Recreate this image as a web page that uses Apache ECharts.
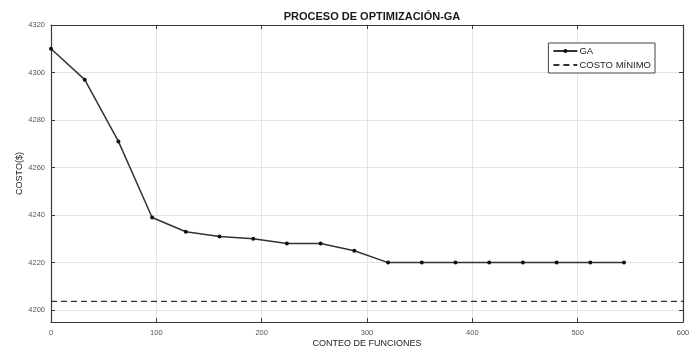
<!DOCTYPE html>
<html>
<head>
<meta charset="utf-8">
<script src="https://cdn.jsdelivr.net/npm/echarts@6/dist/echarts.min.js"></script>
<style>
  html, body { margin: 0; padding: 0; background: #fff; }
  #chart { width: 698px; height: 350px; }
</style>
</head>
<body>
<div id="chart"></div>
<script>
// Function evaluations and best cost found by the genetic algorithm
const evaluations = [0, 32, 64, 96, 128, 160, 192, 224, 256, 288, 320, 352, 384, 416, 448, 480, 512, 544];
const gaCost = [4310, 4297, 4271, 4239, 4233, 4231, 4230, 4228, 4228, 4225, 4220, 4220, 4220, 4220, 4220, 4220, 4220, 4220];
// Reference minimum cost, drawn across the whole x range
const minCostX = [0, 600];
const minCost = 4203.7;
const yTicks = [4200, 4220, 4240, 4260, 4280, 4300, 4320];
const xTicks = [0, 100, 200, 300, 400, 500, 600];

const font = 'Liberation Sans, Arial, Helvetica, sans-serif';
const axisColor = '#3a3a3a';
const tickLabel = { color: '#555', fontSize: 7.5, fontFamily: font, formatter: v => String(v) };

const chart = echarts.init(document.getElementById('chart'), null, { renderer: 'canvas' });

chart.setOption({
  animation: false,
  backgroundColor: '#fff',
  title: {
    text: 'PROCESO DE OPTIMIZACIÓN-GA',
    left: 367, top: 6, textAlign: 'center',
    textStyle: { fontFamily: font, fontSize: 11, fontWeight: 'bold', color: '#1a1a1a' }
  },
  grid: { left: 51, right: 15, top: 25, bottom: 28, containLabel: false, outerBoundsMode: 'none' },
  legend: {
    right: 43, top: 43,
    orient: 'vertical',
    itemWidth: 24, itemHeight: 5, itemGap: 4,
    padding: [3, 4, 3, 4],
    borderColor: '#444', borderWidth: 1,
    backgroundColor: '#fff',
    textStyle: { fontFamily: font, fontSize: 9.5, color: '#222', padding: [0, 0, 0, -3] },
    data: [
      { name: 'GA' },
      { name: 'COSTO MÍNIMO', itemStyle: { color: 'rgba(0,0,0,0)', borderWidth: 0 } }
    ]
  },
  xAxis: [{
    type: 'value', min: xTicks[0], max: xTicks[xTicks.length - 1], interval: 100,
    name: 'CONTEO DE FUNCIONES', nameLocation: 'middle', nameGap: 17, nameMoveOverlap: false,
    nameTextStyle: { fontFamily: font, fontSize: 9, color: '#222' },
    axisLine: { show: true, onZero: false, lineStyle: { color: axisColor, width: 1.2 } },
    axisTick: { show: true, inside: true, length: 4, lineStyle: { color: axisColor } },
    axisLabel: Object.assign({}, tickLabel, { margin: 7 }),
    splitLine: { show: true, lineStyle: { color: '#e4e4e4', width: 1 } }
  }, {
    type: 'value', position: 'top', min: xTicks[0], max: xTicks[xTicks.length - 1], interval: 100,
    axisLine: { show: true, onZero: false, lineStyle: { color: axisColor, width: 1.2 } },
    axisTick: { show: true, inside: true, length: 4, lineStyle: { color: axisColor } },
    axisLabel: { show: false },
    splitLine: { show: false }
  }],
  yAxis: [{
    type: 'value', min: 4195, max: 4320,
    name: 'COSTO($)', nameLocation: 'middle', nameGap: 27, nameMoveOverlap: false,
    nameTextStyle: { fontFamily: font, fontSize: 9, color: '#222' },
    axisLine: { show: true, onZero: false, lineStyle: { color: axisColor, width: 1.2 } },
    axisTick: { show: true, inside: true, length: 4, customValues: yTicks, lineStyle: { color: axisColor } },
    axisLabel: Object.assign({}, tickLabel, { margin: 6, customValues: yTicks }),
    splitLine: { show: true, lineStyle: { color: '#e4e4e4', width: 1 } }
  }, {
    type: 'value', position: 'right', min: 4195, max: 4320,
    axisLine: { show: true, onZero: false, lineStyle: { color: axisColor, width: 1.2 } },
    axisTick: { show: true, inside: true, length: 4, customValues: yTicks, lineStyle: { color: axisColor } },
    axisLabel: { show: false, customValues: yTicks },
    splitLine: { show: false }
  }],
  series: [{
    name: 'GA', type: 'line',
    data: evaluations.map((x, i) => [x, gaCost[i]]),
    symbol: 'circle', symbolSize: 4,
    lineStyle: { color: '#333', width: 1.5 },
    itemStyle: { color: '#111' },
    z: 3
  }, {
    name: 'COSTO MÍNIMO', type: 'line',
    data: minCostX.map(x => [x, minCost]),
    symbol: 'none',
    lineStyle: { color: '#333', width: 1.4, type: [6, 4] },
    itemStyle: { color: '#333' },
    z: 2
  }]
});
</script>
</body>
</html>
